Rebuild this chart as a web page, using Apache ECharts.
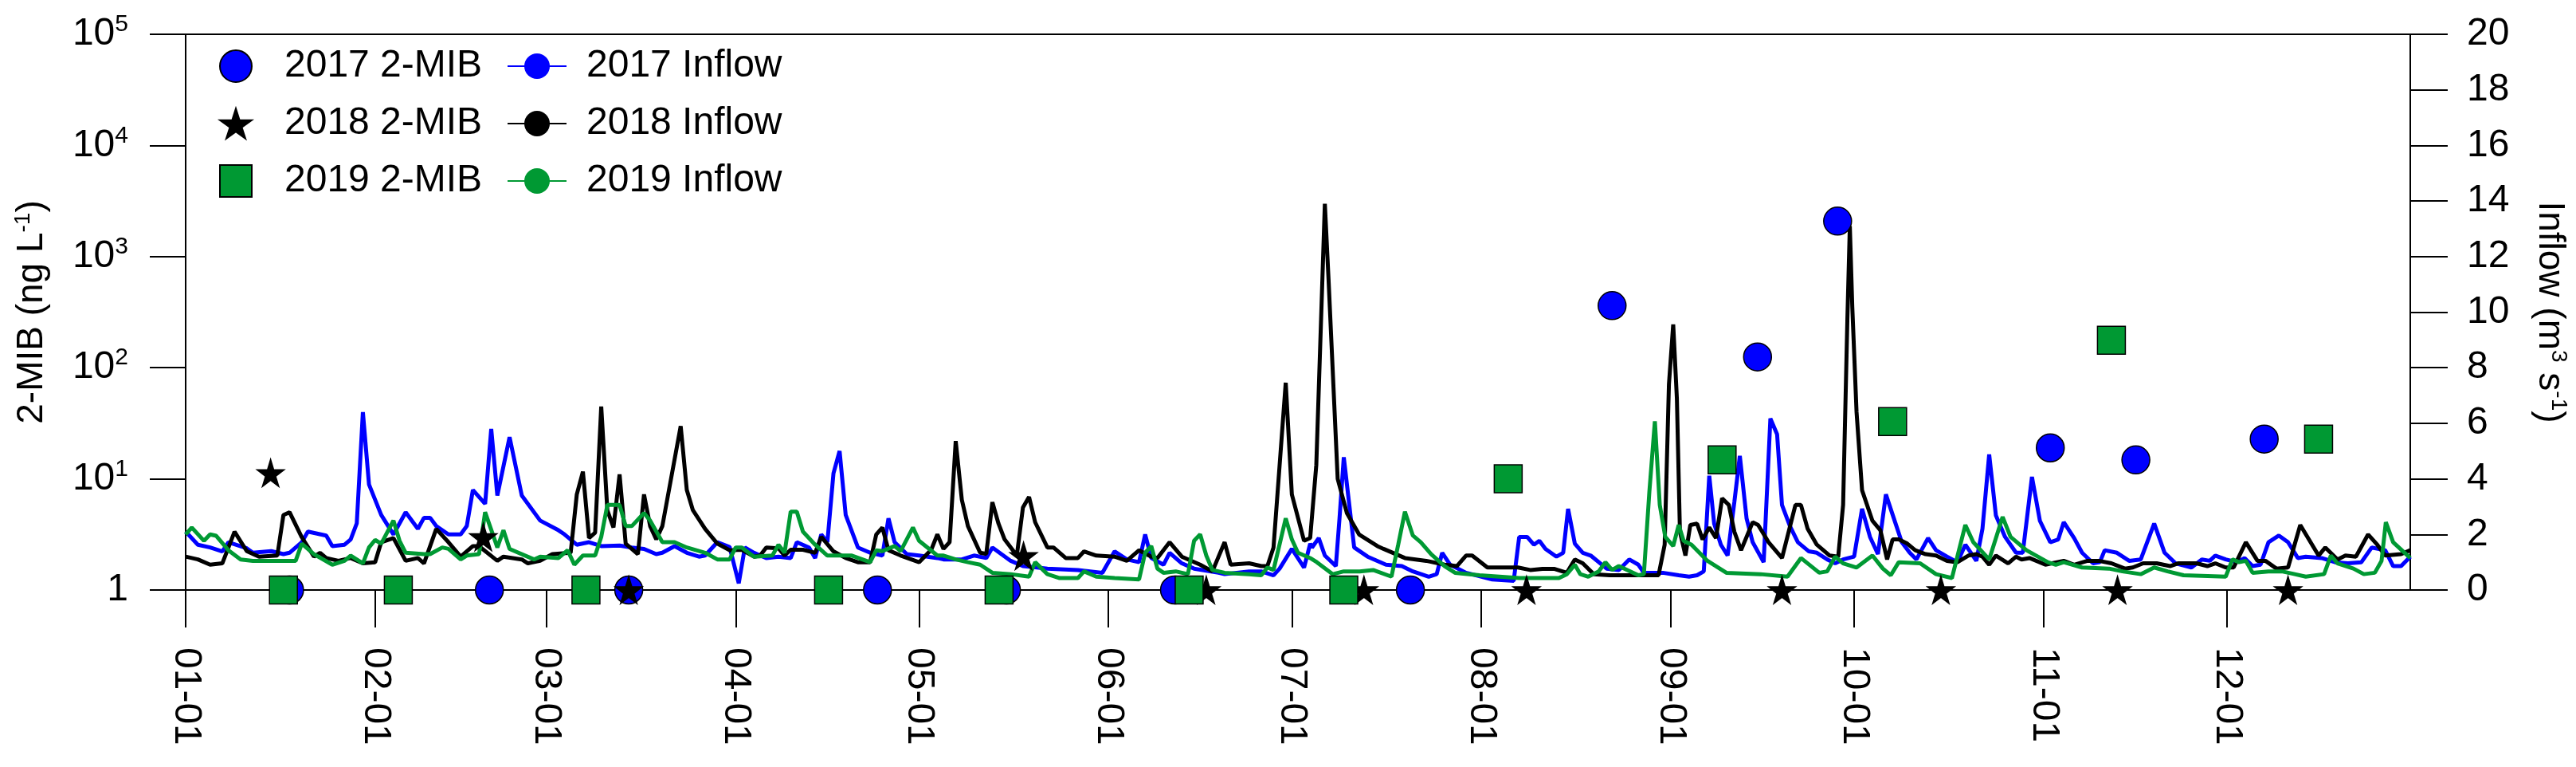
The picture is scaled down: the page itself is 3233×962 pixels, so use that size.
<!DOCTYPE html>
<html>
<head>
<meta charset="utf-8">
<script src="https://cdn.jsdelivr.net/npm/echarts@6/dist/echarts.min.js"></script>
<style>html,body{margin:0;padding:0;background:#fff}#c{width:3233px;height:962px}</style>
</head>
<body>
<div id="c"></div>
<script>
// day of year (0 = 01-01) for month ticks
var monthDays = [0, 31, 59, 90, 120, 151, 181, 212, 243, 273, 304, 334];
var monthLabels = ['01-01','02-01','03-01','04-01','05-01','06-01','07-01','08-01','09-01','10-01','11-01','12-01'];

// 2-MIB (ng/L), [day, value]
var mib2017 = [[17,1],[49.7,1],[72.5,1],[113.2,1],[134.3,1],[161.8,1],[200.4,1],[233.4,362],[257.2,125],[270.3,2085],[305.1,19],[319.1,14.8],[340.1,22.8]];
var mib2018 = [[13.9,11.3],[48.7,3.0],[72.5,1],[137.1,2.03],[167,1],[192.8,1],[219.4,1],[261.2,1],[287.2,1],[316.1,1],[344,1]];
var mib2019 = [[16,1],[34.8,1],[65.5,1],[105.2,1],[133.1,1],[164.2,1],[189.5,1],[216.4,10],[251.4,14.8],[279.3,32.8],[315.1,177],[349,22.8]];

// inflow (m3/s), [day, value]
var inflow2017 = [[0,2.1],[2,1.63],[4,1.53],[6,1.39],[7,1.72],[10,1.5],[11,1.34],[14,1.4],[16,1.29],[17,1.34],[19,1.72],[20,2.1],[23,1.96],[24,1.58],[26,1.63],[27,1.82],[28,2.4],[29,6.4],[30,3.8],[32,2.7],[34,2.0],[36,2.8],[38,2.2],[39,2.6],[40,2.6],[41,2.3],[43,2.0],[45,2.0],[46,2.3],[47,3.6],[49,3.1],[50,5.8],[51,3.4],[53,5.5],[55,3.4],[58,2.5],[61,2.15],[62,2.0],
  [64,1.63],[66,1.72],[68,1.58],[71,1.6],[73,1.53],[75,1.48],[77,1.29],[78,1.34],[80,1.58],[82,1.34],[84,1.2],[85,1.24],[87,1.72],[89,1.55],[90.5,0.24],[91.5,1.53],[93,1.34],[95,1.15],[97,1.2],[99,1.15],[100,1.72],[102,1.53],[103,1.15],[104,2.0],[105,1.72],[106,4.2],[107,5.0],[108,2.7],[110,1.53],[112,1.34],[114,1.24],[115,2.58],[116,1.72],[118,1.29],[120,1.24],[123,1.15],
  [124,1.1],[127,1.1],[129,1.24],[131,1.15],[132,1.53],[135,1.05],[137,0.86],[139,0.82],[141,0.77],[146,0.72],[148,0.67],[150,0.62],[152,1.39],[154,1.1],[156,1.0],[157,2.0],[158,1.15],[160,0.91],[161,1.34],[163,0.96],[165,0.77],[169,0.62],[170,0.57],[174,0.67],[176,0.67],[178,0.53],[179,0.77],[181,1.48],[183,0.81],[184,1.67],
  [184.3,1.53],[185.4,1.87],[186.4,1.24],[188.2,0.86],[188.8,2.58],[189.5,4.78],[190.4,3.06],[191.2,1.53],[193.4,1.2],[196.4,0.91],[199,0.86],[200.8,0.67],[203.4,0.48],[204.7,0.57],[205.6,1.34],[206.9,0.91],[209.5,0.62],[213.8,0.38],[217.3,0.33],[218.2,1.91],[219.5,1.91],[220.6,1.63],[221.5,1.77],[222.5,1.48],[224.3,1.2],[225.4,1.34],[226.2,2.92],[227.3,1.67],[228.6,1.34],[229.9,1.24],[232.5,0.77],[234.5,0.72],[236.2,1.1],[237.7,0.91],[238.6,0.62],[241.7,0.62],[244.3,0.53],[246,0.48],
  [247.3,0.53],[248.4,0.67],[249.3,4.11],[250.1,2.39],[251.2,1.63],[252.3,1.24],[253.4,3.16],[254.3,4.83],[255.4,2.58],[256.4,1.72],[258.2,1.0],[259.3,6.17],[260.4,5.6],[261.2,3.06],[262.5,2.3],[263.8,1.72],[265.6,1.39],[266.9,1.34],[268.6,1.1],[269.9,0.96],[271.2,1.1],[273,1.2],[274.3,2.92],[275.6,1.91],[276.9,1.29],[278.2,3.44],[279.5,2.58],[280.8,1.72],[282.1,1.34],[283.2,1.1],[285.1,1.87],[286.4,1.43],[288.2,1.2],[289.9,1.0],[291.2,1.63],[293,1.05],[294,2.2],[295.1,4.88],[296.2,2.68],[297.7,1.91],[299.5,1.34],[300.6,1.34],[302.1,4.07],[303.4,2.49],[305.1,1.72],[306.4,1.82],[307.3,2.44],
  [309,1.87],[310.3,1.34],[312.1,0.96],[313.2,1.0],[314,1.43],[316,1.34],[318,1.05],[319.9,1.1],[322.1,2.39],[323.8,1.34],[325.6,0.96],[328.2,0.81],[329.9,1.1],[331.2,1.05],[332.1,1.24],[333.8,1.1],[335.6,1.0],[336.9,1.15],[338.2,0.86],[339.5,0.91],[340.8,1.72],[342.5,1.96],[344,1.72],[345.6,1.15],[346.9,1.2],[349.5,1.15],[351.7,1.0],[353.8,0.96],[356,1.0],[357.7,1.53],[359.9,1.43],[361.2,0.86],[362.5,0.86],[364,1.2]];

var inflow2018 = [[0,1.2],[2,1.1],[4,0.91],[6,0.96],[8,2.1],[10,1.4],[12,1.2],[15,1.24],[16,2.7],[17,2.8],[19,1.9],[21,1.2],[22,1.34],[23,1.15],[25,1.05],[27,1.15],[29,0.96],[31,1.0],[32,1.72],[34,1.87],[36,1.05],[38,1.15],[39,0.96],[41,2.2],[43,1.72],[45,1.2],[47,1.58],[48,1.58],[51,1.05],[52,1.2],[55,1.1],[56,0.96],[58,1.05],[60,1.29],
  [63,1.34],[64,3.44],[65,4.26],[66,1.87],[67,2.06],[68,6.6],[69,2.87],[70,2.25],[71,4.16],[72,1.67],[74,1.29],[75,3.44],[76,2.3],[77,1.82],[78,2.3],[81,5.9],[82,3.6],[83,2.87],[85,2.2],[87,1.67],[89,1.43],[91,1.45],[93,1.2],[94,1.24],[95,1.53],[97,1.5],[98,1.24],[99,1.45],[101,1.45],[103,1.34],[104,1.91],[106,1.39],[108,1.15],[110,1.0],[112,1.0],[113,2.0],[114,2.25],[115,1.43],[117,1.24],[120,1.0],[122,1.45],[123,2.0],
  [124,1.48],[125,1.72],[126,5.36],[127,3.25],[128,2.3],[130,1.34],[131,1.3],[132,3.16],[133,2.39],[134,1.82],[136,1.24],[137,2.97],[138,3.35],[139,2.44],[141,1.53],[142,1.53],[144,1.15],[146,1.15],[147,1.39],[149,1.24],[152,1.2],[154,1.05],[156,1.43],[158,1.2],[159,1.15],[161,1.72],[163,1.2],[166,0.91],[168,0.67],[170,1.72],[171,0.91],[174,0.96],[176,0.86],[177,0.86],[178,1.53],[180,7.46],[181,3.44],[183,1.77],[184,1.87],
  [185,4.5],[186,11.2],[186.4,13.9],[187,11.2],[188,6.4],[188.5,4.0],[190,2.77],[192,2.0],[195,1.58],[196,1.48],[199.5,1.15],[203,1.05],[206,0.91],[208,0.86],[209.5,1.24],[210.5,1.24],[213,0.81],[216,0.81],[218,0.81],[220,0.72],[222,0.76],[224,0.76],[226,0.62],[227.3,1.1],[228.6,0.96],[230.4,0.57],[233,0.53],[241,0.53],[242,1.63],[242.7,7.4],[243.4,9.56],[244,6.9],[244.5,2.1],[245.4,1.24],
  [246.2,2.34],[247.3,2.39],[248.2,1.82],[249.3,2.25],[250.4,1.87],[251.4,3.3],[252.5,3.06],[253.4,2.1],[254.5,1.43],[256.4,2.44],[257.3,2.34],[259,1.72],[261.2,1.15],[263.4,3.06],[264.3,3.06],[265.4,2.2],[266.9,1.63],[269,1.24],[270.4,1.2],[271.2,3.06],[271.9,9.76],[272.3,13.1],[272.7,10.2],[273.4,6.4],[274.3,3.59],[276,2.49],[277.3,2.15],[278.4,1.1],[279.3,1.82],[280.3,1.82],[281.7,1.67],[283,1.43],[284.7,1.29],[286.4,1.24],[288.2,1.05],[289.9,1.0],[291.7,1.24],[293,1.29],[294,1.2],[295.1,0.91],[296.2,1.24],[298.2,0.96],[299.5,1.2],[300.4,1.1],[301.7,1.15],[304.3,0.91],[307.3,1.05],
  [309,0.91],[311.2,1.05],[313,1.05],[315.1,0.96],[317.3,0.77],[318.6,0.81],[320.3,0.96],[322.5,0.96],[324.7,0.86],[326,0.96],[329,0.96],[330.8,0.86],[332.1,0.96],[333.8,0.81],[335.1,0.81],[337.1,1.72],[339,1.05],[340.3,1.05],[342.1,0.77],[344,0.81],[346,2.34],[349,1.24],[350.1,1.53],[352.1,1.1],[353.4,1.24],[355.1,1.2],[357.1,2.0],[358.6,1.63],[359.9,1.24],[362.5,1.29],[364,1.43]];

var inflow2019 = [[0,2.0],[1,2.25],[3,1.77],[4,2.0],[5,1.95],[7,1.43],[9,1.1],[11,1.05],[14,1.05],[18,1.05],[19,1.67],[21,1.29],[24,0.91],[26,1.05],[27,1.24],[29,0.96],[30,1.53],[31,1.8],[32,1.67],[34,2.5],[35,1.77],[36,1.34],[39,1.29],[40,1.29],[42,1.53],[43,1.48],[45,1.1],[46,1.24],[48,1.29],[49,2.8],[51,1.53],[52,2.15],[53,1.48],[57,1.1],[58,1.2],[61,1.15],[62.5,1.43],
  [63.6,0.91],[65,1.24],[67,1.24],[68,1.91],[69,3.06],[71,3.06],[72,2.3],[73,2.3],[75,2.77],[76,2.5],[78,1.72],[80,1.72],[82,1.53],[85,1.34],[87,1.1],[89,1.1],[90,1.53],[91,1.53],[93,1.2],[96,1.24],[97,1.63],[98,1.34],[99,2.82],[100,2.82],[101,2.1],[103,1.63],[105,1.24],[109,1.24],[112,1.0],[113,1.43],[114,1.4],[116,1.58],[117,1.4],[119,2.25],[120,1.77],[123,1.24],
  [124,1.24],[126,1.1],[128,1.0],[130,0.91],[132,0.62],[135,0.57],[138,0.48],[139,1.0],[141,0.57],[143,0.43],[146,0.43],[147,0.67],[149,0.48],[152,0.43],[156,0.38],[157,1.34],[158,1.58],[159,0.77],[160,0.62],[162,0.67],[164,0.57],[165,1.77],[166,2.0],[167,1.24],[168,0.72],[170,0.62],[174,0.57],[176,0.53],[177,0.81],[178,0.72],[180,2.58],[181,1.82],[182,1.34],[184,1.15],
  [185.1,1.0],[187.7,0.57],[189.5,0.67],[192.1,0.67],[194.3,0.72],[197.3,0.48],[198.4,1.63],[199.5,2.82],[200.8,1.96],[202.1,1.72],[203.8,1.29],[206,0.86],[207.7,0.62],[211.7,0.53],[218.2,0.43],[224.7,0.43],[226,0.57],[227.3,0.91],[228.2,0.57],[229.5,0.48],[231.2,0.67],[232.3,1.0],[233.4,0.72],[234.5,0.86],[237.7,0.53],[238.6,0.57],[239.5,3.54],[240.4,6.07],[241.2,3.06],[242.1,1.91],[243.4,1.58],[244.3,2.34],[245.1,1.77],
  [246.4,1.63],[249,1.05],[252.1,0.62],[257.7,0.57],[262.1,0.48],[264.3,1.15],[267.3,0.62],[268.6,0.67],[269.9,1.2],[271.2,0.96],[273.4,0.81],[276,1.24],[277.7,0.77],[279,0.53],[280.3,1.0],[283.8,0.96],[286.4,0.57],[289,0.43],[291.2,2.34],[292.5,1.72],[295.1,1.1],[297.3,2.63],[298.6,1.91],[301.2,1.43],[304.7,1.0],[306,0.91],[307.3,1.0],
  [310.3,0.81],[314.7,0.77],[316.9,0.67],[319.9,0.57],[322.1,0.81],[324.3,0.67],[326.9,0.53],[333.8,0.48],[334.9,1.1],[336,1.0],[337.1,1.05],[338.2,0.62],[340.8,0.67],[343,0.67],[345.1,0.57],[346.9,0.48],[349.9,0.57],[351,1.24],[352.1,0.96],[354.7,0.77],[356.4,0.57],[358.2,0.62],[359.3,1.05],[360,2.44],[361.2,1.72],[364,1.15]];

var star = 'path://M50,0 L61,35 L98,35 L68,57 L79,91 L50,70 L21,91 L32,57 L2,35 L39,35 Z';
var FONT = 'Liberation Sans, Arial, sans-serif';

var chart = echarts.init(document.getElementById('c'));

function inflowLine(name, color, data) {
    return {
        name: name, type: 'line', yAxisIndex: 1, data: data,
        symbol: 'none', showSymbol: false, z: 2,
        lineStyle: { color: color, width: 5 }, itemStyle: { color: color }
    };
}
function mibPoints(name, symbol, size, color, z, data) {
    return {
        name: name, type: 'scatter', yAxisIndex: 0, data: data,
        symbol: symbol, symbolSize: size, z: z,
        itemStyle: { color: color, borderColor: '#000', borderWidth: 1.5, opacity: 1 }
    };
}

var legendText = { fontSize: 48, color: '#000', fontFamily: FONT, lineHeight: 50 };

chart.setOption({
    backgroundColor: '#fff',
    animation: false,
    textStyle: { fontFamily: FONT },
    grid: { left: 233, right: 207, top: 43, bottom: 222, show: true, borderColor: '#000', borderWidth: 2 },
    legend: [
        { data: ['2017 2-MIB', '2018 2-MIB', '2019 2-MIB'], orient: 'vertical', left: 270, top: 53,
          itemWidth: 40, itemHeight: 40, itemGap: 22, textStyle: Object.assign({ padding: [0, 0, 0, 36] }, legendText) },
        { data: ['2017 Inflow', '2018 Inflow', '2019 Inflow'], orient: 'vertical', left: 631, top: 53,
          itemWidth: 74, itemHeight: 40, itemGap: 22, textStyle: Object.assign({ padding: [0, 0, 0, 20] }, legendText) }
    ],
    xAxis: {
        type: 'value', min: 0, max: 364,
        splitLine: { show: false },
        axisLine: { lineStyle: { color: '#000', width: 2 } },
        axisTick: { customValues: monthDays, length: 47, lineStyle: { color: '#000', width: 2 } },
        axisLabel: {
            customValues: monthDays, rotate: -90, margin: 72, fontSize: 48, color: '#000',
            formatter: function (v) { return monthLabels[monthDays.indexOf(Math.round(v))] || ''; }
        }
    },
    yAxis: [
        {
            type: 'log', logBase: 10, min: 1, max: 100000, interval: 1, position: 'left',
            name: '2-MIB (ng L{s|-1})', nameLocation: 'middle', nameGap: 168, nameRotate: 90,
            nameTextStyle: { fontSize: 46, color: '#000', rich: { s: { fontSize: 28, padding: [0, 0, 22, 0] } } },
            splitLine: { show: false },
            axisLine: { show: true, lineStyle: { color: '#000', width: 2 } },
            axisTick: { length: 45, lineStyle: { color: '#000', width: 2 } },
            axisLabel: {
                margin: 72, fontSize: 48, color: '#000',
                formatter: function (v) {
                    var e = Math.round(Math.log10(v));
                    return e === 0 ? '1' : '10{e|' + e + '}';
                },
                rich: { e: { fontSize: 30, color: '#000', padding: [0, 0, 24, 0] } }
            }
        },
        {
            type: 'value', min: 0, max: 20, interval: 2, position: 'right',
            name: 'Inflow (m{s|3} s{s|-1})', nameLocation: 'middle', nameGap: 150, nameRotate: -90,
            nameTextStyle: { fontSize: 46, color: '#000', rich: { s: { fontSize: 28, padding: [0, 0, 22, 0] } } },
            splitLine: { show: false },
            axisLine: { show: true, lineStyle: { color: '#000', width: 2 } },
            axisTick: { length: 47, lineStyle: { color: '#000', width: 2 } },
            axisLabel: { margin: 71, fontSize: 48, color: '#000' }
        }
    ],
    series: [
        inflowLine('2017 Inflow', '#0000ff', inflow2017),
        inflowLine('2018 Inflow', '#000000', inflow2018),
        inflowLine('2019 Inflow', '#009933', inflow2019),
        mibPoints('2017 2-MIB', 'circle', 35, '#0000ff', 5, mib2017),
        mibPoints('2018 2-MIB', star, 34, '#000000', 6, mib2018),
        mibPoints('2019 2-MIB', 'rect', 35, '#009933', 7, mib2019)
    ]
});
</script>
</body>
</html>
